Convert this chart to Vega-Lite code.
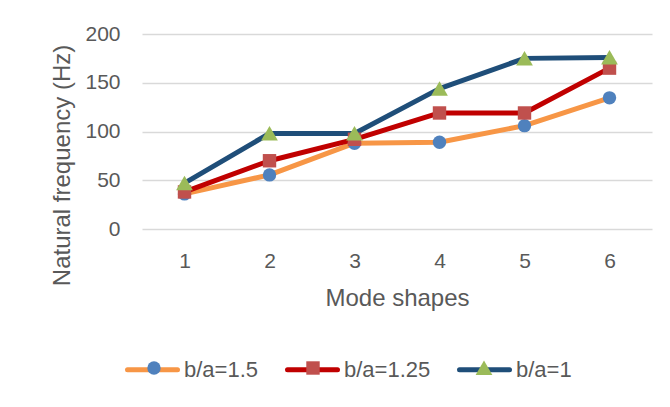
{
  "$schema": "https://vega.github.io/schema/vega-lite/v6.json",
  "autosize": "none",
  "width": 510,
  "height": 195,
  "padding": {"left": 142, "top": 34, "right": 18, "bottom": 178},
  "background": "white",
  "config": {
    "view": {"stroke": null},
    "font": "Liberation Sans",
    "axis": {
      "labelFont": "Liberation Sans",
      "titleFont": "Liberation Sans",
      "labelColor": "#595959",
      "titleColor": "#595959",
      "titleFontWeight": "normal",
      "domain": false,
      "ticks": false,
      "tickSize": 0
    },
    "legend": {
      "labelFont": "Liberation Sans",
      "labelColor": "#595959",
      "labelFontSize": 22
    }
  },
  "data": {
    "values": [
      {"mode": 1, "series": "b/a=1.5", "order": 1, "freq": 36},
      {"mode": 2, "series": "b/a=1.5", "order": 1, "freq": 55.5},
      {"mode": 3, "series": "b/a=1.5", "order": 1, "freq": 88},
      {"mode": 4, "series": "b/a=1.5", "order": 1, "freq": 89},
      {"mode": 5, "series": "b/a=1.5", "order": 1, "freq": 106},
      {"mode": 6, "series": "b/a=1.5", "order": 1, "freq": 134.5},
      {"mode": 1, "series": "b/a=1.25", "order": 2, "freq": 38},
      {"mode": 2, "series": "b/a=1.25", "order": 2, "freq": 70},
      {"mode": 3, "series": "b/a=1.25", "order": 2, "freq": 92},
      {"mode": 4, "series": "b/a=1.25", "order": 2, "freq": 119},
      {"mode": 5, "series": "b/a=1.25", "order": 2, "freq": 119},
      {"mode": 6, "series": "b/a=1.25", "order": 2, "freq": 165},
      {"mode": 1, "series": "b/a=1", "order": 3, "freq": 47},
      {"mode": 2, "series": "b/a=1", "order": 3, "freq": 98},
      {"mode": 3, "series": "b/a=1", "order": 3, "freq": 98},
      {"mode": 4, "series": "b/a=1", "order": 3, "freq": 144},
      {"mode": 5, "series": "b/a=1", "order": 3, "freq": 175},
      {"mode": 6, "series": "b/a=1", "order": 3, "freq": 176}
    ]
  },
  "encoding": {
    "x": {
      "field": "mode",
      "type": "ordinal",
      "scale": {"type": "point", "padding": 0.5},
      "axis": {
        "title": "Mode shapes",
        "titleFontSize": 24,
        "titleY": 76,
        "titleBaseline": "alphabetic",
        "labelAngle": 0,
        "labelFontSize": 21,
        "labelBaseline": "alphabetic",
        "labelPadding": 38,
        "grid": false
      }
    },
    "y": {
      "field": "freq",
      "type": "quantitative",
      "scale": {"domain": [0, 200], "nice": false, "zero": true},
      "axis": {
        "values": [0, 50, 100, 150, 200],
        "title": "Natural frequency (Hz)",
        "titleFontSize": 24,
        "titleAngle": 270,
        "titleAlign": "center",
        "titleBaseline": "middle",
        "titleX": -80,
        "titleY": 131,
        "labelFontSize": 21,
        "labelPadding": 22,
        "grid": true,
        "gridColor": "#D9D9D9",
        "gridWidth": 1.3
      }
    }
  },
  "layer": [
    {
      "mark": {"type": "line", "strokeWidth": 5, "strokeCap": "round", "strokeJoin": "round"},
      "encoding": {
        "stroke": {
          "field": "series",
          "type": "nominal",
          "sort": {"field": "order", "op": "min"},
          "scale": {"range": ["#F79646", "#C00000", "#1F4E79"]},
          "legend": {
            "title": null,
            "orient": "none",
            "direction": "horizontal",
            "legendX": -17,
            "legendY": 308,
            "symbolType": "stroke",
            "symbolSize": 2500,
            "symbolStrokeWidth": 5,
            "labelOffset": 4,
            "columnPadding": 18,
            "encode": {"symbols": {"update": {"strokeCap": {"value": "round"}}}}
          }
        }
      }
    },
    {
      "mark": {"type": "point", "filled": true, "opacity": 1, "size": 180},
      "encoding": {
        "fill": {
          "field": "series",
          "type": "nominal",
          "sort": {"field": "order", "op": "max"},
          "scale": {"range": ["#4F81BD", "#C0504D", "#9BBB59"]},
          "legend": {
            "title": null,
            "orient": "none",
            "direction": "horizontal",
            "legendX": 1,
            "legendY": 323,
            "symbolSize": 180,
            "symbolStrokeWidth": 0,
            "labelOffset": 44,
            "labelOpacity": 0,
            "columnPadding": 18
          }
        },
        "shape": {
          "field": "series",
          "type": "nominal",
          "sort": {"field": "order", "op": "max"},
          "scale": {"range": ["circle", "square", "M0,-1.1L1.25,1.05L-1.25,1.05Z"]},
          "legend": {
            "title": null,
            "orient": "none",
            "direction": "horizontal",
            "legendX": 1,
            "legendY": 323,
            "symbolSize": 180,
            "symbolStrokeWidth": 0,
            "labelOffset": 44,
            "labelOpacity": 0,
            "columnPadding": 18
          }
        }
      }
    }
  ]
}
